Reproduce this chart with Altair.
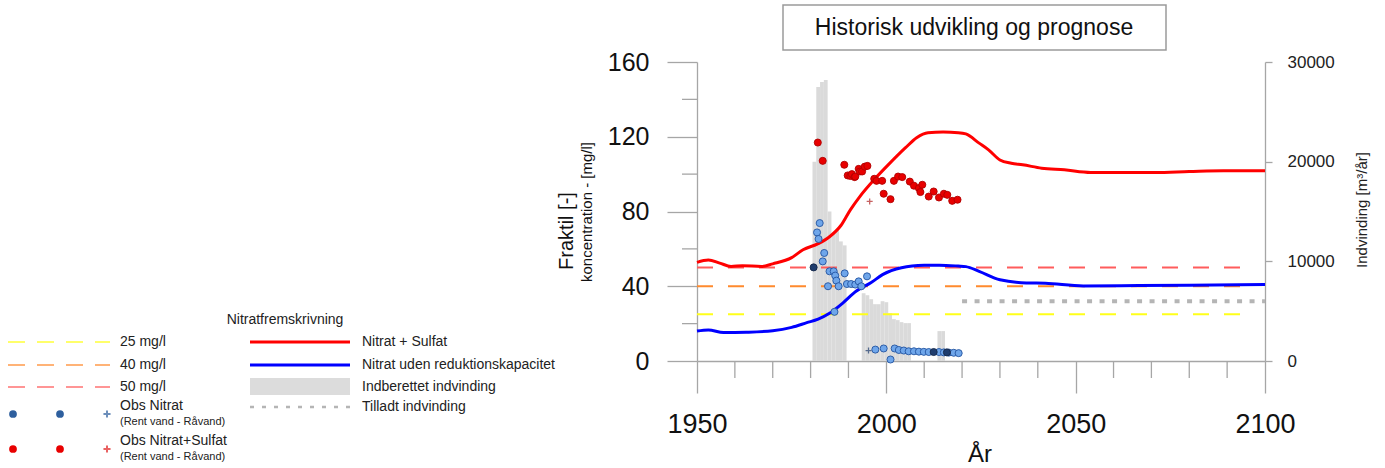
import altair as alt
import pandas as pd

# ---------------- data ----------------
ns_years = [1950, 1953, 1956, 1959, 1962, 1967, 1970, 1975, 1978, 1982, 1985, 1988, 1990.5, 1993,
            1997, 2001, 2005, 2008, 2011, 2015, 2019, 2021, 2024.5, 2027, 2030, 2033, 2036, 2041,
            2047, 2054, 2062, 2071, 2080, 2089, 2100]
ns_vals = [52.8, 54.0, 52.4, 50.6, 51.0, 50.6, 52.0, 55.3, 59.5, 62.8, 66.5, 72.5, 80.9, 88.0,
           97.5, 106.0, 114.0, 119.5, 122.2, 122.5, 122.2, 121.5, 116.6, 113.0, 107.6, 105.8, 105.0, 103.2,
           102.3, 100.9, 100.9, 100.9, 101.4, 101.8, 101.8]

n_years = [1950, 1953, 1957, 1963, 1970, 1975, 1979, 1982, 1985, 1988.5, 1992, 1996, 1999, 2004,
           2010, 2014, 2019, 2021, 2024.5, 2030, 2037, 2042, 2052, 2062, 2080, 2100]
n_vals = [16.0, 16.6, 15.2, 15.4, 16.2, 18.0, 20.5, 22.4, 25.5, 31.0, 37.3, 42.0, 46.2, 49.9,
          51.2, 51.3, 50.8, 50.5, 48.0, 43.5, 41.8, 41.6, 40.2, 40.3, 40.5, 40.9]

bar_years = [1981, 1982, 1983, 1984, 1985, 1986, 1987, 1988, 1989,
             1994, 1995, 1996, 1997, 1998, 1999, 2000, 2001, 2002, 2003, 2004, 2005, 2006,
             2014, 2015]
bar_vals = [20000, 27500, 28000, 28200, 15000, 12800, 13200, 12000, 11600,
            6800, 6600, 6200, 5700, 5700, 6000, 5900, 4800, 4200, 4100, 3900, 3800, 3800,
            3000, 3000]

permit_years = [2020, 2100]
permit_value = 6000

red_obs_years = [1981.9, 1983.2, 1988.9, 1989.8, 1990.5, 1990.9, 1991.6, 1991.8, 1992.7, 1993.0,
                 1993.6, 1994.3, 1995.0, 1996.8, 1997.4, 1998.9, 1999.3, 2001.1, 2002.0, 2003.1,
                 2004.2, 2006.2, 2007.3, 2008.6, 2009.0, 2009.5, 2011.2, 2012.5, 2013.9, 2015.2,
                 2016.1, 2017.4, 2018.8]
red_obs_vals = [116.9, 107.1, 105.0, 99.3, 99.0, 100.0, 98.4, 98.7, 102.8, 101.4,
                101.4, 104.0, 104.4, 97.5, 96.4, 96.4, 89.5, 86.6, 96.4, 98.7,
                98.4, 96.0, 93.8, 92.5, 90.4, 94.3, 88.0, 90.7, 87.5, 89.5,
                88.9, 85.7, 86.3]
red_plus_years = [1995.6]
red_plus_vals = [85.4]

blue_obs_years = [1981.7, 1982.1, 1982.4, 1983.6, 1983.2, 1985.0, 1986.1, 1986.5, 1986.8, 1989.0,
                  1984.6, 1987.4, 1989.6, 1990.7, 1991.8, 1992.7, 1993.4, 1994.9, 1986.3,
                  1997.1, 1999.3, 2001.1, 2002.2, 2003.3, 2004.6, 2005.9, 2007.3, 2008.6, 2009.9,
                  2011.2, 2013.9, 2015.2, 2016.5, 2017.8, 2019.1]
blue_obs_vals = [68.8, 65.3, 73.8, 57.8, 53.3, 48.0, 48.0, 45.7, 43.0, 46.9,
                 40.0, 40.0, 41.2, 41.2, 40.9, 42.6, 40.0, 45.3, 26.3,
                 6.1, 6.7, 0.8, 6.7, 5.9, 5.6, 5.2, 5.2, 5.0, 4.9,
                 4.8, 4.8, 4.6, 4.5, 4.4, 4.2]
dark_obs_years = [1980.8, 2012.5, 2016.0]
dark_obs_vals = [50.1, 4.8, 4.6]
blue_plus_years = [1995.3]
blue_plus_vals = [5.6]

limit_levels = [25, 40, 50]
limit_labels = ["25 mg/l", "40 mg/l", "50 mg/l"]
limit_colors = ["#ffff1a", "#ff8a2e", "#ff5c5c"]
limit_span = [1950, 2097]

x_major = [1950, 2000, 2050, 2100]
x_minor = [1960, 1970, 1980, 1990, 2010, 2020, 2030, 2040, 2060, 2070, 2080, 2090]
y_major = [0, 40, 80, 120, 160]
y_minor = [20, 60, 100, 140]
y2_ticks = [0, 10000, 20000, 30000]

# ---------------- layout ----------------
W, H = 568, 299
OX, OY = 697, 62
GREY = "#a6a6a6"
FONT = "Liberation Sans"

xs = alt.Scale(domain=[1950, 2100], nice=False, zero=False)
ys = alt.Scale(domain=[0, 160], nice=False)
vs = alt.Scale(domain=[0, 30000], nice=False)

x_axis = alt.Axis(values=x_major, format="d", tickSize=32, labelFontSize=27, labelPadding=18,
                  labelFlush=False, labelOverlap=False,
                  title=None, grid=False, domainColor=GREY, tickColor=GREY, domainWidth=1.3,
                  tickWidth=1.3, labelColor="#111", labelFont=FONT)
y_axis = alt.Axis(orient="left", values=y_major, format="d", tickSize=30, labelFontSize=25,
                  labelPadding=18, labelFlush=False, labelOverlap=False,
                  title=None, grid=False, domainColor=GREY, tickColor=GREY, domainWidth=1.3,
                  tickWidth=1.3, labelColor="#111", labelFont=FONT)
v_axis = alt.Axis(orient="right", values=y2_ticks, format="d", tickSize=7, labelFontSize=17,
                  labelPadding=15, labelFlush=False, labelOverlap=False,
                  title=None, grid=False, domainColor=GREY, tickColor=GREY, domainWidth=1.3,
                  tickWidth=1.3, labelColor="#222", labelFont=FONT)

one = pd.DataFrame({"a": [0]})


def X(field):
    return alt.X(field, scale=xs, axis=x_axis)


def Y(field):
    return alt.Y(field, scale=ys, axis=y_axis)


def V(field):
    return alt.Y(field, scale=vs, axis=v_axis)


# ---------- bars (right axis) ----------
bars_df = pd.DataFrame({"year": bar_years, "vol": bar_vals})
bars = alt.Chart(bars_df).transform_calculate(
    x0="datum.year - 0.5", x1="datum.year + 0.5"
).mark_rect(color="#dadada").encode(
    x=X("x0:Q"), x2="x1:Q", y=V("vol:Q"), y2=alt.datum(0)
)
permit_df = pd.DataFrame({"x0": [permit_years[0]], "x1": [permit_years[1]], "vol": [permit_value]})
permit = alt.Chart(permit_df).mark_rule(color="#b5b5b5", strokeWidth=4, strokeDash=[5, 7.5]).encode(
    x=X("x0:Q"), x2="x1:Q", y=V("vol:Q")
)
vol_group = alt.layer(bars, permit)

# ---------- concentration layers (left axis) ----------
conc_layers = []
for lev, col in zip(limit_levels, limit_colors):
    d = pd.DataFrame({"x0": [limit_span[0]], "x1": [limit_span[1]], "val": [lev]})
    conc_layers.append(alt.Chart(d).mark_rule(strokeWidth=2, strokeDash=[16, 15], color=col).encode(
        x=X("x0:Q"), x2="x1:Q", y=Y("val:Q")))

conc_layers.append(alt.Chart(pd.DataFrame({"year": x_minor})).mark_rule(color=GREY, strokeWidth=1.3).encode(
    x=X("year:Q"), y=alt.value(H), y2=alt.value(H + 17)))
conc_layers.append(alt.Chart(pd.DataFrame({"val": y_minor})).mark_rule(color=GREY, strokeWidth=1.3).encode(
    y=Y("val:Q"), x=alt.value(-15), x2=alt.value(0)))

for yrs, vals, col in [(ns_years, ns_vals, "#ff0000"), (n_years, n_vals, "#0000ff")]:
    d = pd.DataFrame({"year": yrs, "val": vals})
    conc_layers.append(alt.Chart(d).mark_line(strokeWidth=3, interpolate="monotone", color=col).encode(
        x=X("year:Q"), y=Y("val:Q")))


def pts(years, vals, fill, stroke, size=50):
    df = pd.DataFrame({"year": years, "val": vals})
    return alt.Chart(df).mark_point(filled=True, shape="circle", size=size, fill=fill,
                                    stroke=stroke, strokeWidth=0.9, opacity=1).encode(
        x=X("year:Q"), y=Y("val:Q"))


def plus(years, vals, color):
    df = pd.DataFrame({"year": years, "val": vals})
    return alt.Chart(df).mark_point(shape="M-1,0L1,0M0,-1L0,1", filled=False, size=36,
                                    color=color, strokeWidth=1.3).encode(
        x=X("year:Q"), y=Y("val:Q"))


conc_layers += [
    pts(red_obs_years, red_obs_vals, "#e80000", "#b00000"),
    pts(blue_obs_years, blue_obs_vals, "#6fa6ea", "#2353a0"),
    pts(dark_obs_years, dark_obs_vals, "#1f3d6e", "#15284a"),
    plus(red_plus_years, red_plus_vals, "#b02020"),
    plus(blue_plus_years, blue_plus_vals, "#1f3d6e"),
]
conc_group = alt.layer(*conc_layers)


# ---------- annotation helpers (pixel positions relative to plot origin) ----------
def txt(s, ax, ay, size, align="left", angle=0, color="#222"):
    return alt.Chart(one).mark_text(align=align, baseline="middle", fontSize=size, font=FONT,
                                    angle=angle, color=color).encode(
        x=alt.value(ax - OX), y=alt.value(ay - OY), text=alt.value(s))


def hline(ax0, ax1, ay, color, width, dash=None, opacity=1.0):
    kw = dict(color=color, strokeWidth=width, opacity=opacity)
    if dash:
        kw["strokeDash"] = dash
    return alt.Chart(one).mark_rule(**kw).encode(
        x=alt.value(ax0 - OX), x2=alt.value(ax1 - OX), y=alt.value(ay - OY))


def dot(ax, ay, color, size=60):
    return alt.Chart(one).mark_point(filled=True, shape="circle", size=size, color=color,
                                     opacity=1).encode(x=alt.value(ax - OX), y=alt.value(ay - OY))


def lplus(ax, ay, color):
    return alt.Chart(one).mark_point(shape="M-1,0L1,0M0,-1L0,1", filled=False, size=50,
                                     color=color, strokeWidth=2).encode(
        x=alt.value(ax - OX), y=alt.value(ay - OY))


ann = []
# title box
ann.append(alt.Chart(one).mark_rect(fill="white", stroke="#9a9a9a", strokeWidth=1.5).encode(
    x=alt.value(783 - OX), x2=alt.value(1166 - OX), y=alt.value(5 - OY), y2=alt.value(50 - OY)))
ann.append(txt("Historisk udvikling og prognose", 974, 28, 23, align="center", color="#111"))
# axis titles
ann.append(txt("År", 980, 455, 24, align="center", color="#111"))
ann.append(txt("Fraktil [-]", 567, 231, 20, align="center", angle=270, color="#111"))
ann.append(txt("koncentration - [mg/l]", 587, 212, 15, align="center", angle=270, color="#111"))
ann.append(txt("Indvinding [m³/år]", 1362, 210, 15, align="center", angle=270, color="#222"))

# legend
ann.append(txt("Nitratfremskrivning", 285, 320, 14, align="center"))
for lab, col, ly in zip(limit_labels, limit_colors, [342, 365, 387]):
    ann.append(hline(8, 110, ly, col, 2, dash=[17, 12], opacity=0.65))
    ann.append(txt(lab, 120, ly, 14))
ann.append(dot(13, 414, "#2e5f9e"))
ann.append(dot(60, 414, "#2e5f9e"))
ann.append(lplus(107, 414, "#2e5f9e"))
ann.append(txt("Obs Nitrat", 120, 406, 14))
ann.append(txt("(Rent vand - Råvand)", 120, 422, 11))
ann.append(dot(13, 449, "#e80000"))
ann.append(dot(60, 449, "#e80000"))
ann.append(lplus(107, 449, "#e02020"))
ann.append(txt("Obs Nitrat+Sulfat", 120, 441, 14))
ann.append(txt("(Rent vand - Råvand)", 120, 457, 11))

ann.append(hline(250, 350, 342, "#ff0000", 3))
ann.append(txt("Nitrat + Sulfat", 362, 342, 14))
ann.append(hline(250, 350, 365, "#0000ff", 3))
ann.append(txt("Nitrat uden reduktionskapacitet", 362, 365, 14))
ann.append(alt.Chart(one).mark_rect(color="#dcdcdc").encode(
    x=alt.value(250 - OX), x2=alt.value(350 - OX), y=alt.value(378 - OY), y2=alt.value(395 - OY)))
ann.append(txt("Indberettet indvinding", 362, 387, 14))
ann.append(hline(250, 350, 407, "#b5b5b5", 2.5, dash=[4, 8]))
ann.append(txt("Tilladt indvinding", 362, 407, 14))

chart = alt.layer(vol_group, conc_group, *ann).resolve_scale(
    y="independent"
).properties(
    width=W, height=H,
    padding={"left": OX, "top": OY, "right": 1385 - OX - W, "bottom": 468 - OY - H},
    autosize=alt.AutoSizeParams(type="none"),
    background="white",
).configure(font=FONT).configure_view(stroke=None)

chart.save("out.html", embed_options={"renderer": "svg", "actions": False})
